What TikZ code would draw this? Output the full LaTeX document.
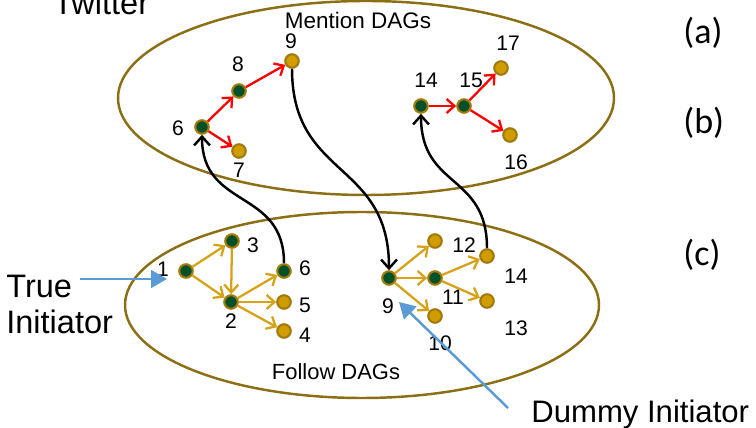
\documentclass[tikz,border=0pt]{standalone}
\usepackage{fontspec}
\setmainfont{Liberation Sans}
\newfontfamily\slidefont{Carlito}
\usepackage{tikz}
\usetikzlibrary{positioning,arrows.meta}

\definecolor{dagframe}{RGB}{140,110,20}
\definecolor{nodeedge}{RGB}{160,122,10}
\definecolor{seedgreen}{RGB}{0,80,40}
\definecolor{leafgold}{RGB}{208,156,0}
\definecolor{followgold}{RGB}{214,162,24}
\definecolor{pointerblue}{RGB}{91,155,213}

\begin{document}
\begin{tikzpicture}[x=0.02cm,y=-0.02cm,
    user/.style={circle,draw=nodeedge,line width=1.2pt,minimum size=0.27cm,inner sep=0pt},
    seed/.style={user,fill=seedgreen},
    leaf/.style={user,fill=leafgold},
    num/.style={font=\fontsize{12}{14}\selectfont,inner sep=0pt},
    follow/.style={-{Straight Barb[length=4.5pt,width=8pt]},draw=followgold,line width=1.3pt},
    mention/.style={-{Straight Barb[length=4.5pt,width=8pt]},draw=red,line width=1.3pt},
    jump/.style={-{Straight Barb[length=5pt,width=9pt]},line width=1.4pt},
    pointer/.style={-{Triangle[length=9pt,width=10pt]},draw=pointerblue,line width=1.4pt}]
  \useasboundingbox (0,0) rectangle (756,428);

  % the two layers
  \draw[dagframe,line width=1.4pt] (366,98) ellipse [x radius=248, y radius=97];
  \draw[dagframe,line width=1.4pt] (362,305) ellipse [x radius=237, y radius=93];
  \node[anchor=base west,inner sep=0pt,font=\fontsize{18.5}{20}\selectfont] (twitter) at (53,15) {Twitter};
  \node[font=\fontsize{12.8}{14}\selectfont] (mentiontitle) at (358,20) {Mention DAGs};
  \node[font=\fontsize{12.5}{14}\selectfont] (followtitle) at (336,372) {Follow DAGs};

  % mention DAGs
  \node[seed] (m6) at (202,127) {};
  \node[seed] (m8) at (239,91) {};
  \node[leaf] (m9) at (292,61) {};
  \node[leaf] (m7) at (239,151) {};
  \node[seed] (m14) at (421,106) {};
  \node[seed] (m15) at (464,106) {};
  \node[leaf] (m17) at (501,68) {};
  \node[leaf] (m16) at (510,135) {};

  \node[num] (m6l) at (178,128) {6};
  \node[num] (m8l) at (238,64) {8};
  \node[num] (m9l) at (291,41) {9};
  \node[num] (m7l) at (239,170) {7};
  \node[num] (m14l) at (426,80) {14};
  \node[num] (m15l) at (471,80) {15};
  \node[num] (m17l) at (508,43) {17};
  \node[num] (m16l) at (516,162) {16};

  \draw[mention] (m6) -- (m8);
  \draw[mention] (m6) -- (m7);
  \draw[mention] (m8) -- (m9);
  \draw[mention] (m14) -- (m15);
  \draw[mention] (m15) -- (m17);
  \draw[mention] (m15) -- (m16);

  % follow DAGs
  \node[seed] (f1) at (186,271) {};
  \node[seed] (f3) at (232,241) {};
  \node[seed] (f2) at (231,302) {};
  \node[seed] (f6) at (284,271) {};
  \node[leaf] (f5) at (284,302) {};
  \node[leaf] (f4) at (284,331) {};
  \node[seed] (f9) at (389,278) {};
  \node[leaf] (f12) at (435,241) {};
  \node[seed] (f11) at (435,278) {};
  \node[leaf] (f10) at (435,316) {};
  \node[leaf] (f14) at (487,256) {};
  \node[leaf] (f13) at (487,301) {};

  \node[num] (f1l) at (163,269) {1};
  \node[num] (f3l) at (253,245) {3};
  \node[num] (f2l) at (231,321) {2};
  \node[num] (f6l) at (305,268) {6};
  \node[num] (f5l) at (305,305) {5};
  \node[num] (f4l) at (305,335) {4};
  \node[num] (f9l) at (388,306) {9};
  \node[num] (f12l) at (464,245) {12};
  \node[num] (f11l) at (453,297) {11};
  \node[num] (f10l) at (440,343) {10};
  \node[num] (f14l) at (516,276) {14};
  \node[num] (f13l) at (516,328) {13};

  \draw[follow] (f1) -- (f3);
  \draw[follow] (f1) -- (f2);
  \draw[follow] (f3) -- (f2);
  \draw[follow] (f2) -- (f6);
  \draw[follow] (f2) -- (f5);
  \draw[follow] (f2) -- (f4);
  \draw[follow] (f9) -- (f12);
  \draw[follow] (f9) -- (f11);
  \draw[follow] (f9) -- (f10);
  \draw[follow] (f11) -- (f14);
  \draw[follow] (f11) -- (f13);

  % links between the layers
  \draw[jump] (f6.north) .. controls +(0,-75) and +(0,75) .. (m6.south);
  \draw[jump] (m9.south) .. controls +(0,110) and +(0,-110) .. (f9.north);
  \draw[jump] (f14.north) .. controls +(0,-75) and +(0,75) .. (m14.south);

  % initiators
  \node[anchor=west,align=left,inner sep=0pt,font=\fontsize{18.5}{20.5}\selectfont] (truetext) at (6,304) {True\\Initiator};
  \coordinate (truetail) at (80,279);
  \coordinate (truetip) at (167,279);
  \draw[pointer] (truetail) -- (truetip);
  \node[anchor=base west,inner sep=0pt,font=\fontsize{17.7}{20}\selectfont] (dummytext) at (531,422) {Dummy Initiator};
  \coordinate (dummytail) at (508,408);
  \coordinate (dummytip) at (399,302);
  \draw[pointer] (dummytail) -- (dummytip);

  % item marks
  \node[anchor=base west,inner sep=0pt,font=\slidefont\fontsize{20.5}{24}\selectfont] (itema) at (683,44) {(a)};
  \node[anchor=base west,inner sep=0pt,font=\slidefont\fontsize{20.5}{24}\selectfont] (itemb) at (683,134) {(b)};
  \node[anchor=base west,inner sep=0pt,font=\slidefont\fontsize{20.5}{24}\selectfont] (itemc) at (683,266) {(c)};
\end{tikzpicture}
\end{document}
